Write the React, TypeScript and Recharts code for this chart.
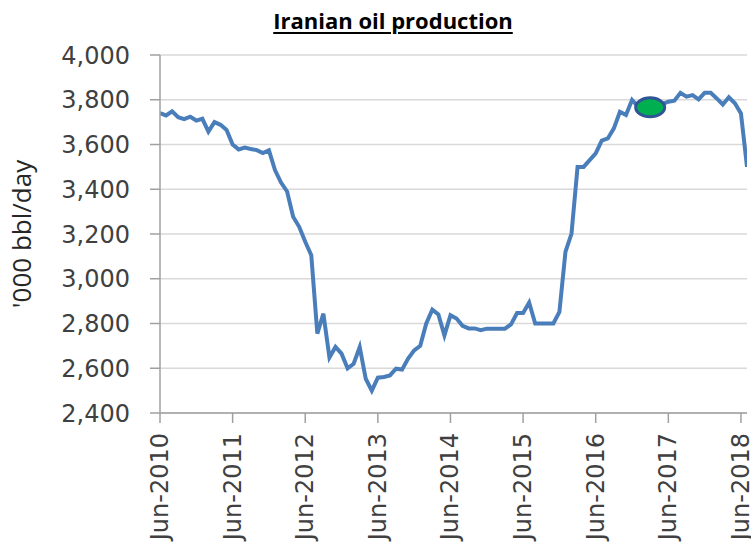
import React from "react";
import { LineChart, Line, XAxis, YAxis, CartesianGrid, ReferenceDot } from "recharts";

// Monthly Iranian oil production, '000 bbl/day, starting Jun-2010 (index 0)
const production: number[] = [
  3740, 3730, 3748, 3722, 3713, 3724, 3707, 3715, 3658, 3700,
  3688, 3665, 3600, 3578, 3586, 3580, 3575, 3562, 3574, 3486,
  3430, 3390, 3277, 3232, 3165, 3105, 2755, 2844, 2648, 2695,
  2665, 2600, 2620, 2695, 2553, 2500, 2558, 2561, 2568, 2598,
  2594, 2643, 2680, 2700, 2800, 2862, 2841, 2747, 2837, 2822,
  2790, 2778, 2778, 2770, 2777, 2777, 2777, 2777, 2796, 2847,
  2847, 2894, 2800, 2800, 2800, 2800, 2852, 3120, 3202, 3500,
  3500, 3530, 3560, 3617, 3627, 3672, 3746, 3732, 3799, 3769,
  3766, 3766, 3772, 3780, 3791, 3796, 3831, 3814, 3821, 3802,
  3831, 3831, 3806, 3779, 3811, 3784, 3739, 3500,
];

const tickIndices: number[] = [0, 12, 24, 36, 48, 60, 72, 84, 96];
const tickLabels: string[] = [
  "Jun-2010", "Jun-2011", "Jun-2012", "Jun-2013", "Jun-2014",
  "Jun-2015", "Jun-2016", "Jun-2017", "Jun-2018",
];
const yTicks: number[] = [2400, 2600, 2800, 3000, 3200, 3400, 3600, 3800, 4000];

const markerIndex = 81;
const markerValue = 3766;

const data = production.map((v, i) => ({ i, v }));

const tickFont = "'DejaVu Sans', Verdana, sans-serif";

const XTick = (props: any) => {
  const { x, y, payload } = props;
  const idx = tickIndices.indexOf(payload.value);
  const label = idx >= 0 ? tickLabels[idx] : "";
  return (
    <text
      x={x}
      y={y}
      transform={`rotate(-90 ${x} ${y})`}
      textAnchor="end"
      dy="0.33em"
      fontFamily={tickFont}
      fontSize={24}
      fill="#404040"
    >
      {label}
    </text>
  );
};

const YLabel = () => (
  <text
    x={31}
    y={234}
    transform="rotate(-90 31 234)"
    textAnchor="middle"
    fontFamily="'Open Sans', sans-serif"
    fontSize={26}
    fill="#262626"
  >
    '000 bbl/day
  </text>
);

export default function App() {
  return (
    <div style={{ position: "absolute", left: 0, top: 0, width: 751, height: 546, background: "#fff" }}>
      <div
        style={{
          position: "absolute",
          left: 0,
          top: 9,
          width: 786,
          textAlign: "center",
          fontFamily: "'Open Sans', sans-serif",
          fontWeight: 700,
          fontSize: 22,
          lineHeight: "22px",
          color: "#000",
          textDecoration: "underline",
          textDecorationThickness: "2px",
          textUnderlineOffset: "3px",
          zIndex: 2,
        }}
      >
        Iranian oil production
      </div>
      <LineChart
        width={751}
        height={546}
        data={data}
        margin={{ top: 55, right: 4, left: 0, bottom: 0 }}
      >
        <CartesianGrid horizontal={true} vertical={false} stroke="#D9D9D9" strokeWidth={1.5} />
        <XAxis
          dataKey="i"
          type="number"
          domain={[0, 97]}
          ticks={tickIndices}
          interval={0}
          height={133}
          tickSize={10}
          tickMargin={10}
          stroke="#A0A0A0"
          strokeWidth={1.5}
          tick={<XTick />}
          allowDataOverflow={true}
        />
        <YAxis
          type="number"
          domain={[2400, 4000]}
          ticks={yTicks}
          interval={0}
          width={160}
          tickSize={10}
          tickMargin={20}
          stroke="#A0A0A0"
          strokeWidth={1.5}
          tickFormatter={(v: number) => v.toLocaleString("en-US")}
          tick={{ fontFamily: tickFont, fontSize: 24, fill: "#404040" }}
          label={{ content: () => <YLabel /> }}
        />
        <Line
          type="linear"
          dataKey="v"
          stroke="#4A7EBB"
          strokeWidth={4}
          dot={false}
          isAnimationActive={false}
        />
        <ReferenceDot
          x={markerIndex}
          y={markerValue}
          shape={(p: any) => (
            <ellipse cx={p.cx} cy={p.cy} rx={14.5} ry={9.5} fill="#00B050" stroke="#2F5597" strokeWidth={3} />
          )}
        />
      </LineChart>
    </div>
  );
}
